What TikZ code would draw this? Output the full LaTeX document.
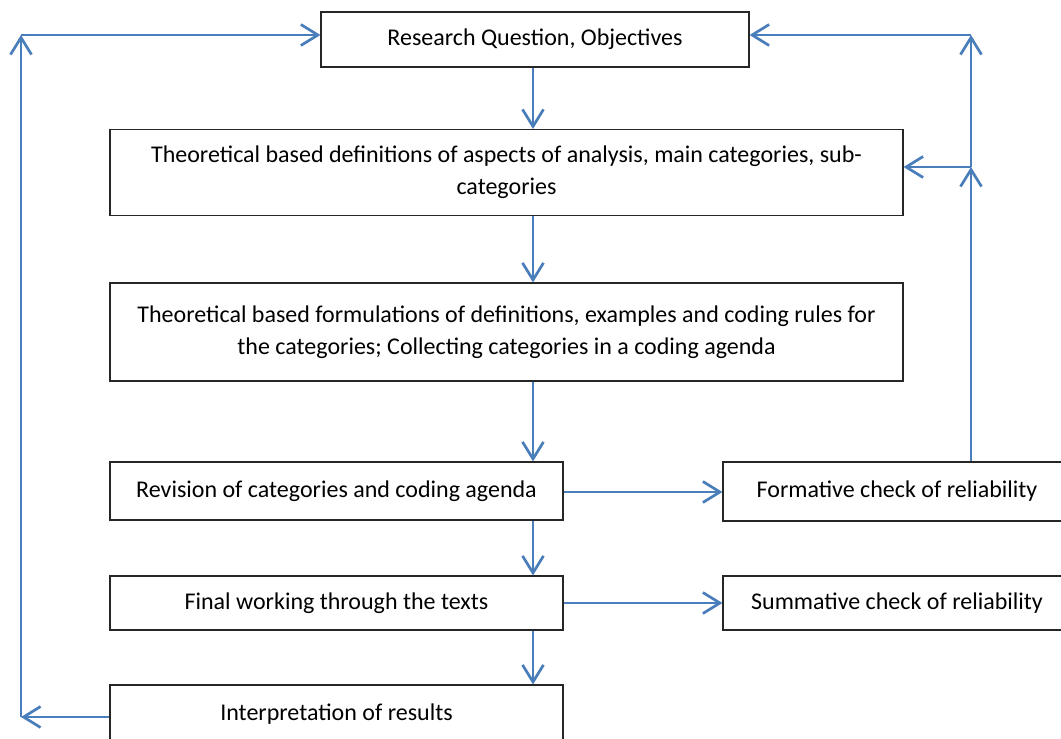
\documentclass[tikz,border=0pt]{standalone}
\usepackage{fontspec}
\setmainfont{Carlito}
\usetikzlibrary{arrows.meta}
\definecolor{flowblue}{RGB}{74,126,187}
\begin{document}
\begin{tikzpicture}[x=1pt,y=-1pt,
  box/.style={draw=black!85, line width=1.1pt, fill=white, rectangle, inner sep=0pt,
    align=center, font=\fontsize{24}{32}\selectfont},
  arr/.style={draw=flowblue, line width=2.7pt,
    -{Straight Barb[length=17pt,width=21pt,line width=2.7pt]}}]
\useasboundingbox (0,0) rectangle (1061,739);

% process boxes (the right-hand boxes run past the page edge)
\node[box, minimum width=428pt, minimum height=55pt] (rq) at (535,39.5) {Research Question, Objectives};
\node[box, minimum width=793pt, minimum height=86pt] (defs) at (506.5,172.5)
  {Theoretical based definitions of aspects of analysis, main categories, sub-\\categories};
\node[box, minimum width=793pt, minimum height=98pt] (form) at (506.5,332)
  {Theoretical based formulations of definitions, examples and coding rules for\\the categories; Collecting categories in a coding agenda};
\node[box, minimum width=453pt, minimum height=58pt] (rev) at (336.5,491) {Revision of categories and coding agenda};
\node[box, minimum width=348pt, minimum height=59pt] (formc) at (897,491.5) {Formative check of reliability};
\node[box, minimum width=453pt, minimum height=54pt] (fin) at (336.5,603) {Final working through the texts};
\node[box, minimum width=348pt, minimum height=54pt] (sumc) at (897,603) {Summative check of reliability};
\node[box, minimum width=453pt, minimum height=58pt] (interp) at (336.5,714) {Interpretation of results};

% routing points
\coordinate (mid) at (533,0);
\coordinate (lbot) at (21,717);
\coordinate (ltop) at (21,35);
\coordinate (rmid) at (971,167);
\coordinate (rtop) at (971,35);

% main sequence
\draw[arr] (rq.south -| mid) -- (defs.north -| mid);
\draw[arr] (defs.south -| mid) -- (form.north -| mid);
\draw[arr] (form.south -| mid) -- (rev.north -| mid);
\draw[arr] (rev.south -| mid) -- (fin.north -| mid);
\draw[arr] (fin.south -| mid) -- (interp.north -| mid);

% side checks
\draw[arr] (rev.east |- 0,492) -- (formc.west |- 0,492);
\draw[arr] (fin.east) -- (sumc.west);

% feedback loop on the left
\draw[arr] (interp.west |- lbot) -- (lbot);
\draw[arr] (lbot) -- (ltop);
\draw[arr] (ltop) -- (rq.west |- ltop);

% feedback loop on the right
\draw[arr] (formc.north -| rmid) -- (rmid);
\draw[arr] (rmid) -- (defs.east |- rmid);
\draw[arr] (rmid) -- (rtop);
\draw[arr] (rtop) -- (rq.east |- rtop);
\end{tikzpicture}
\end{document}
